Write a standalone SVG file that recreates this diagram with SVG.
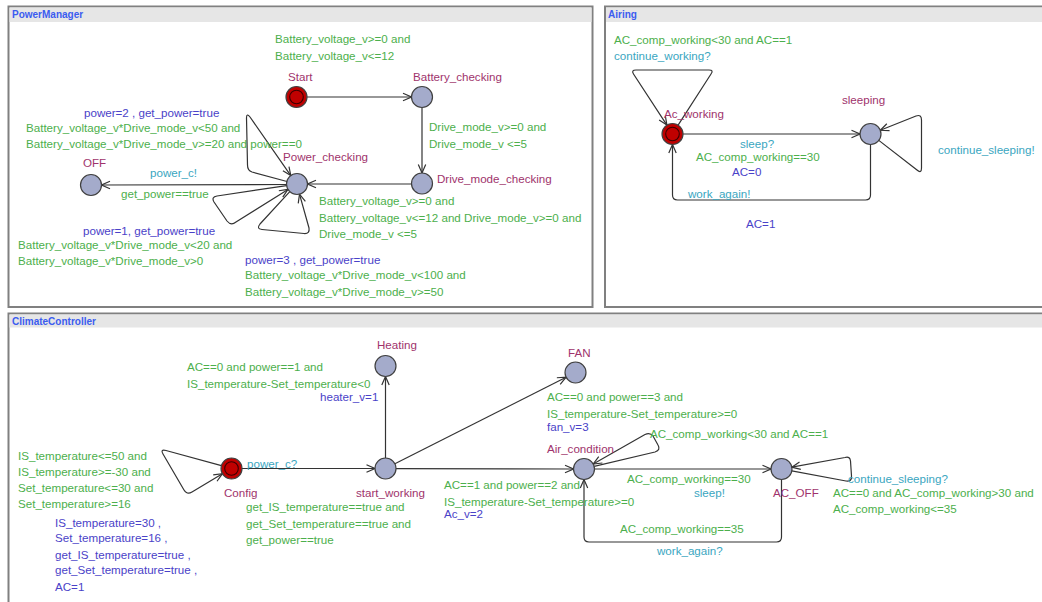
<svg xmlns="http://www.w3.org/2000/svg" width="1042" height="602" viewBox="0 0 1042 602">
<style>
text{font-family:"Liberation Sans",Arial,sans-serif;font-size:11.6px}
.ttl{font-size:10px;font-weight:bold;fill:#3b5cf0}
.nm{fill:#a0336c}
.g{fill:#4caf4c}
.s{fill:#3aa6bf}
.u{fill:#4a42c8}
.panel{fill:#fff;stroke:#808080;stroke-width:2}
.bar{fill:#e6e6e6}
.loc{fill:#a4abcb;stroke:#404040;stroke-width:1.2}
.init{fill:#c00000;stroke:#404040;stroke-width:1.2}
.inner{fill:none;stroke:#3a0000;stroke-width:1.1}
.e{fill:none;stroke:#333;stroke-width:1.2;marker-end:url(#arr)}
</style>
<defs>
<marker id="arr" viewBox="0 0 10 10" refX="9.5" refY="5" markerWidth="10" markerHeight="10" markerUnits="userSpaceOnUse" orient="auto">
<path d="M1,1.3 L9.5,5 L1,8.7" fill="none" stroke="#333" stroke-width="1.2"/>
</marker>
</defs>
<rect width="1042" height="602" fill="#fff"/>
<g id="panels">
<rect class="panel" x="8.5" y="6.5" width="584" height="300.5"/>
<rect class="bar" x="9.5" y="7.5" width="582" height="14.5"/>
<text class="ttl" x="12" y="18">PowerManager</text>
<rect class="panel" x="605" y="6.5" width="445" height="300.5"/>
<rect class="bar" x="606" y="7.5" width="440" height="14.5"/>
<text class="ttl" x="608" y="18">Airing</text>
<rect class="panel" x="8.5" y="313.5" width="1045" height="300"/>
<rect class="bar" x="9.5" y="314.5" width="1040" height="13"/>
<text class="ttl" x="12" y="325">ClimateController</text>
</g>
<g id="connectors">
<!-- PowerManager -->
<path class="e" d="M307,97 L411.5,97"/>
<path class="e" d="M422,107.5 L422,173"/>
<path class="e" d="M411.5,184 L307.5,184"/>
<path class="e" d="M286.5,184.5 L101.5,185"/>
<path class="e" d="M287,181.5 L252,172 Q247.5,170.5 247.5,165 L246.5,118 Q246.5,112.5 250,117 L290.8,175.6"/>
<path class="e" d="M286.6,185.6 L217,196 Q211,197 214,202 L227,221 Q231,226 236,222 L288,189.4"/>
<path class="e" d="M289.8,191.7 L260,224 Q256,229 262,229.5 L304,233.5 Q310,234 309,228 L299.5,194.2"/>
<!-- Airing -->
<path class="e" d="M683,134 L860,134"/>
<path class="e" d="M678.1,125.1 L711,74 Q714,70 709,70 L636,70 Q631,70 633.5,74 L666.9,125.1"/>
<path class="e" d="M870.5,144.5 L870.5,195 Q870.5,200 865.5,200 L677.5,200 Q672.5,200 672.5,195 L672.5,144.5"/>
<path class="e" d="M878.8,140.4 L917,170 Q921.5,174 921.5,168 L921.5,120 Q921.5,114 916,116 L880.3,130.3"/>
<!-- ClimateController -->
<path class="e" d="M221.4,465.7 L166,450.5 Q160,449 163,454 L184,490 Q187,495 192,492 L222.4,473.7"/>
<path class="e" d="M242,468.5 L375,468.5"/>
<path class="e" d="M385.5,458 L385.5,376.5"/>
<path class="e" d="M394.9,463.8 L566.1,377.2"/>
<path class="e" d="M396,468.6 L573.5,469"/>
<path class="e" d="M594.2,466.4 L655,452 Q661,450 658,445 L653,436 Q650,432 645,434.5 L593.2,464"/>
<path class="e" d="M594.5,469 L771,469"/>
<path class="e" d="M781.5,479.5 L781.5,537 Q781.5,542 776.5,542 L589,542 Q584,542 584,537 L584,479.5"/>
<path class="e" d="M791.8,470.9 L846,481 Q852,482 851.5,476 L850.5,461 Q850,456 845,457.5 L791.8,467.2"/>
</g>
<g id="edge-labels">
<text class="g" x="275" y="43">Battery_voltage_v&gt;=0 and</text>
<text class="g" x="275" y="60">Battery_voltage_v&lt;=12</text>
<text class="g" x="429" y="131">Drive_mode_v&gt;=0 and</text>
<text class="g" x="429" y="148">Drive_mode_v &lt;=5</text>
<text class="g" x="319" y="205">Battery_voltage_v&gt;=0 and</text>
<text class="g" x="319" y="222">Battery_voltage_v&lt;=12 and Drive_mode_v&gt;=0 and</text>
<text class="g" x="319" y="238">Drive_mode_v &lt;=5</text>
<text class="s" x="150" y="177">power_c!</text>
<text class="g" x="121" y="198">get_power==true</text>
<text class="u" x="84" y="117">power=2 , get_power=true</text>
<text class="g" x="26" y="132">Battery_voltage_v*Drive_mode_v&lt;50 and</text>
<text class="g" x="26" y="148">Battery_voltage_v*Drive_mode_v&gt;=20 and power==0</text>
<text class="u" x="83" y="235">power=1, get_power=true</text>
<text class="g" x="18" y="249">Battery_voltage_v*Drive_mode_v&lt;20 and</text>
<text class="g" x="18" y="265">Battery_voltage_v*Drive_mode_v&gt;0</text>
<text class="u" x="245" y="264">power=3 , get_power=true</text>
<text class="g" x="245" y="279">Battery_voltage_v*Drive_mode_v&lt;100 and</text>
<text class="g" x="245" y="296">Battery_voltage_v*Drive_mode_v&gt;=50</text>

<text class="g" x="614" y="44">AC_comp_working&lt;30 and AC==1</text>
<text class="s" x="614" y="60">continue_working?</text>
<text class="s" x="740" y="148">sleep?</text>
<text class="g" x="696" y="161">AC_comp_working==30</text>
<text class="u" x="732" y="176">AC=0</text>
<text class="s" x="688" y="198">work_again!</text>
<text class="u" x="746" y="227.5">AC=1</text>
<text class="s" x="938" y="153.5">continue_sleeping!</text>

<text class="g" x="18" y="459.5">IS_temperature&lt;=50 and</text>
<text class="g" x="18" y="476">IS_temperature&gt;=-30 and</text>
<text class="g" x="18" y="492">Set_temperature&lt;=30 and</text>
<text class="g" x="18" y="508">Set_temperature&gt;=16</text>
<text class="u" x="55" y="526.5">IS_temperature=30 ,</text>
<text class="u" x="55" y="542">Set_temperature=16 ,</text>
<text class="u" x="55" y="558.5">get_IS_temperature=true ,</text>
<text class="u" x="55" y="574">get_Set_temperature=true ,</text>
<text class="u" x="55" y="591">AC=1</text>
<text class="s" x="247" y="467.5">power_c?</text>
<text class="g" x="246" y="511">get_IS_temperature==true and</text>
<text class="g" x="246" y="527.5">get_Set_temperature==true and</text>
<text class="g" x="246" y="544">get_power==true</text>
<text class="g" x="187" y="371">AC==0 and power==1 and</text>
<text class="g" x="187" y="387.5">IS_temperature-Set_temperature&lt;0</text>
<text class="u" x="320" y="401">heater_v=1</text>
<text class="g" x="547" y="401">AC==0 and power==3 and</text>
<text class="g" x="547" y="418">IS_temperature-Set_temperature&gt;=0</text>
<text class="u" x="547" y="431">fan_v=3</text>
<text class="g" x="444" y="488.5">AC==1 and power==2 and</text>
<text class="g" x="444" y="506">IS_temperature-Set_temperature&gt;=0</text>
<text class="u" x="444" y="518">Ac_v=2</text>
<text class="g" x="650" y="437.5">AC_comp_working&lt;30 and AC==1</text>
<text class="g" x="627" y="482.5">AC_comp_working==30</text>
<text class="s" x="694" y="497">sleep!</text>
<text class="g" x="620" y="532.5">AC_comp_working==35</text>
<text class="s" x="657" y="555">work_again?</text>
<text class="s" x="848" y="482.5">continue_sleeping?</text>
<text class="g" x="833" y="497">AC==0 and AC_comp_working&gt;30 and</text>
<text class="g" x="833" y="513">AC_comp_working&lt;=35</text>
</g>
<g id="Start"><circle class="init" cx="296.5" cy="97" r="10.5"/><circle class="inner" cx="296.5" cy="97" r="6.8"/><text class="nm" x="288" y="81">Start</text></g>
<g id="Battery_checking"><circle class="loc" cx="422" cy="97" r="10.5"/><text class="nm" x="413" y="81">Battery_checking</text></g>
<g id="Drive_mode_checking"><circle class="loc" cx="422" cy="183.5" r="10.5"/><text class="nm" x="437" y="183">Drive_mode_checking</text></g>
<g id="Power_checking"><circle class="loc" cx="297" cy="184" r="10.5"/><text class="nm" x="283" y="161">Power_checking</text></g>
<g id="OFF"><circle class="loc" cx="91" cy="185" r="10.5"/><text class="nm" x="83" y="167">OFF</text></g>
<g id="Ac_working"><circle class="init" cx="672.5" cy="134" r="10.5"/><circle class="inner" cx="672.5" cy="134" r="6.8"/><text class="nm" x="664" y="118">Ac_working</text></g>
<g id="sleeping"><circle class="loc" cx="870.5" cy="134" r="10.5"/><text class="nm" x="842" y="104">sleeping</text></g>
<g id="Config"><circle class="init" cx="231.5" cy="468.5" r="10.5"/><circle class="inner" cx="231.5" cy="468.5" r="6.8"/><text class="nm" x="224" y="497">Config</text></g>
<g id="start_working"><circle class="loc" cx="385.5" cy="468.5" r="10.5"/><text class="nm" x="356" y="497">start_working</text></g>
<g id="Heating"><circle class="loc" cx="385.5" cy="366" r="10.5"/><text class="nm" x="377" y="349">Heating</text></g>
<g id="FAN"><circle class="loc" cx="575.5" cy="372.5" r="10.5"/><text class="nm" x="568" y="356.5">FAN</text></g>
<g id="Air_condition"><circle class="loc" cx="584" cy="469" r="10.5"/><text class="nm" x="547" y="452.5">Air_condition</text></g>
<g id="AC_OFF"><circle class="loc" cx="781.5" cy="469" r="10.5"/><text class="nm" x="773" y="496.5">AC_OFF</text></g>
</svg>
